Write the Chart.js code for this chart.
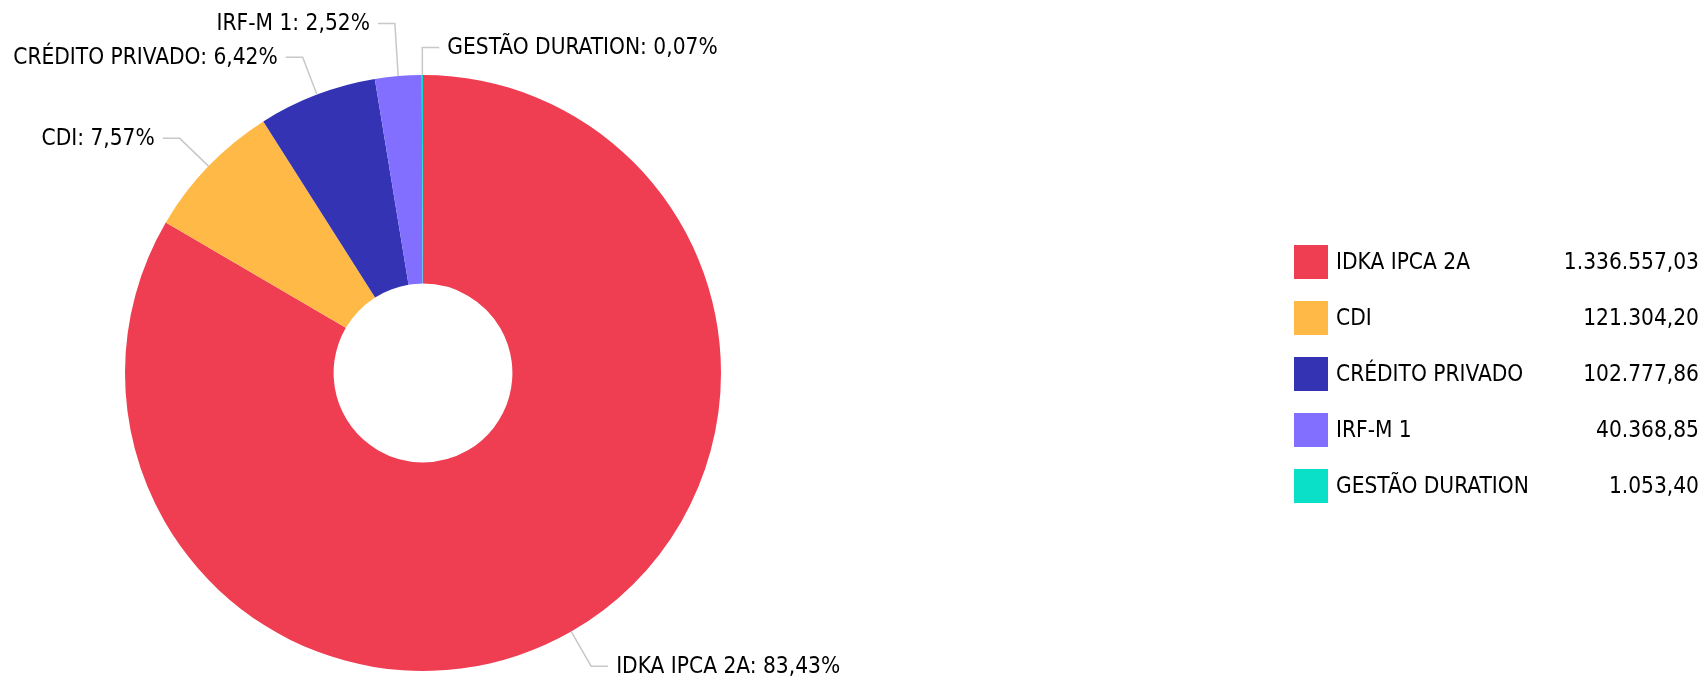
<!DOCTYPE html>
<html>
<head>
<meta charset="utf-8">
<script src="https://cdn.jsdelivr.net/npm/chart.js@4.4.1/dist/chart.umd.min.js"></script>
<style>
  html, body { margin: 0; padding: 0; background: #fff; }
  #wrap { width: 1706px; height: 682px; position: relative; }
</style>
</head>
<body>
<div id="wrap"><canvas id="chart1"></canvas></div>
<script>
const categories = ['IDKA IPCA 2A', 'CDI', 'CRÉDITO PRIVADO', 'IRF-M 1', 'GESTÃO DURATION'];
const amounts = [1336557.03, 121304.20, 102777.86, 40368.85, 1053.40];
const colors = ['#EF3D52', '#FFB946', '#3333B4', '#836FFF', '#0AE0C8'];

const FONT = '22.5px "DejaVu Sans Condensed", "DejaVu Sans", sans-serif';
const total = amounts.reduce((a, b) => a + b, 0);

function fmt(v, dec) {
    const parts = v.toFixed(dec).split('.');
    parts[0] = parts[0].replace(/\B(?=(\d{3})+(?!\d))/g, '.');
    return parts.join(',');
}

// leader-line labels around the pie
const sliceLabels = {
    id: 'sliceLabels',
    afterDraw(chart) {
        const c = chart.ctx;
        const arcs = chart.getDatasetMeta(0).data;
        const items = arcs.map((arc, i) => {
            const a = (arc.startAngle + arc.endAngle) / 2;
            const r = arc.outerRadius;
            const right = Math.cos(a) > -0.01;
            return {
                i, right,
                ex: arc.x + r * Math.cos(a), ey: arc.y + r * Math.sin(a),
                kx: arc.x + (r + 40) * Math.cos(a), ky: arc.y + (r + 40) * Math.sin(a)
            };
        });
        // push apart labels that sit too close
        const gap = 24;
        for (let i = 0; i < items.length; i++) {
            for (let j = i + 1; j < items.length; j++) {
                if (Math.abs(items[i].ky - items[j].ky) < gap && Math.abs(items[i].kx - items[j].kx) < 60) {
                    const mid = (items[i].ky + items[j].ky) / 2;
                    items[i].ky = mid - gap / 2;
                    items[j].ky = mid + gap / 2;
                }
            }
        }
        c.save();
        c.font = FONT;
        c.textBaseline = 'middle';
        items.forEach(it => {
            const dir = it.right ? 1 : -1;
            c.strokeStyle = '#C8C8C8';
            c.lineWidth = 1.5;
            c.beginPath();
            c.moveTo(it.ex, it.ey);
            c.lineTo(it.kx, it.ky);
            c.lineTo(it.kx + dir * 17, it.ky);
            c.stroke();
            c.fillStyle = '#000';
            c.textAlign = it.right ? 'left' : 'right';
            const txt = categories[it.i] + ': ' + fmt(amounts[it.i] / total * 100, 2) + '%';
            c.fillText(txt, it.kx + dir * 25, it.ky + 1);
        });
        c.restore();
    }
};

// legend with values on the right
const sideLegend = {
    id: 'sideLegend',
    afterDraw(chart) {
        const c = chart.ctx;
        c.save();
        c.font = FONT;
        c.textBaseline = 'middle';
        categories.forEach((name, i) => {
            const top = 245 + i * 56;
            c.fillStyle = colors[i];
            c.fillRect(1294, top, 34, 34);
            c.fillStyle = '#000';
            c.textAlign = 'left';
            c.fillText(name, 1336, top + 18);
            c.textAlign = 'right';
            c.fillText(fmt(amounts[i], 2), 1699, top + 18);
        });
        c.restore();
    }
};

const ctx = document.getElementById('chart1').getContext('2d');
const chart1 = new Chart(ctx, {
    type: 'doughnut',
    data: {
        labels: categories,
        datasets: [
            {
                data: amounts,
                backgroundColor: colors,
                borderWidth: 0,
                hoverOffset: 0
            }
        ]
    },
    options: {
        responsive: true,
        maintainAspectRatio: false,
        animation: false,
        cutout: '30%',
        layout: {
            padding: { top: 75, bottom: 11, left: 125, right: 985 }
        },
        plugins: {
            legend: { display: false },
            tooltip: { enabled: false }
        }
    },
    plugins: [sliceLabels, sideLegend]
});
</script>
</body>
</html>
